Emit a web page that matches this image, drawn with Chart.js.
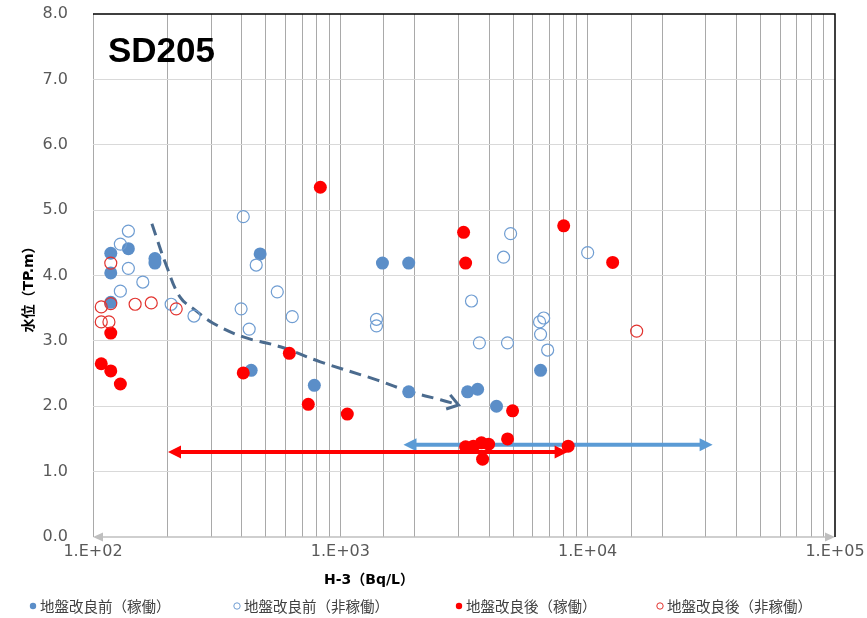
<!DOCTYPE html>
<html>
<head>
<meta charset="utf-8">
<title>SD205</title>
<script src="https://cdn.jsdelivr.net/npm/chart.js@4.4.1/dist/chart.umd.min.js"></script>
<style>
  html, body { margin: 0; padding: 0; background: #ffffff; }
  #wrap { width: 867px; height: 618px; position: relative; }
</style>
</head>
<body>
<div id="wrap"><canvas id="c" width="867" height="618"></canvas></div>
<script>
// ---- data: H-3 concentration (Bq/L) vs. water level (TP.m) ----
const chartTitle = 'SD205';
const xAxisTitle = 'H-3（Bq/L）';
const yAxisTitle = '水位（TP.m）';
const seriesNames = ['地盤改良前（稼働）', '地盤改良前（非稼働）', '地盤改良後（稼働）', '地盤改良後（非稼働）'];

// before ground improvement, operating
const beforeOpX = [118, 139, 118, 178, 178, 118, 474, 436, 785, 1480, 1890, 1890, 3270, 3590, 4280, 6450];
const beforeOpY = [4.34, 4.41, 4.04, 4.26, 4.19, 3.59, 4.33, 2.55, 2.32, 4.19, 4.19, 2.22, 2.22, 2.26, 2.00, 2.55];

// before ground improvement, not operating
const beforeIdleX = [139, 129, 139, 159, 129, 207, 256, 405, 457, 556, 397, 639, 428, 1400, 1400, 3390, 3650, 4740, 4880, 4570, 6640, 6390, 6450, 6890, 10000];
const beforeIdleY = [4.68, 4.48, 4.11, 3.90, 3.76, 3.56, 3.38, 4.90, 4.16, 3.75, 3.49, 3.37, 3.18, 3.33, 3.23, 3.61, 2.97, 2.97, 4.64, 4.28, 3.35, 3.29, 3.10, 2.86, 4.35];

// after ground improvement, operating
const afterOpX = [118, 108, 118, 129, 405, 622, 742, 830, 1067, 3150, 3210, 3210, 3450, 3720, 3760, 3975, 4744, 4970, 8000, 8340, 12620];
const afterOpY = [3.12, 2.65, 2.54, 2.34, 2.51, 2.81, 2.03, 5.35, 1.88, 4.66, 4.19, 1.38, 1.39, 1.44, 1.19, 1.42, 1.50, 1.93, 4.76, 1.39, 4.20];

// after ground improvement, not operating
const afterIdleX = [118, 108, 118, 148, 172, 217, 108, 116, 15780];
const afterIdleY = [4.19, 3.52, 3.57, 3.56, 3.58, 3.49, 3.29, 3.29, 3.15];

// axis ticks
const xTickValues = [100, 1000, 10000, 100000];
const xTickLabels = ['1.E+02', '1.E+03', '1.E+04', '1.E+05'];
const yTickValues = [0, 1, 2, 3, 4, 5, 6, 7, 8];

// annotation: trend path (dashed arrow) and concentration ranges (double arrows)
const trendPathX = [173, 199, 225, 259, 306, 405, 572, 830, 1412, 1920, 2541, 3005];
const trendPathY = [4.79, 4.13, 3.67, 3.47, 3.27, 3.06, 2.91, 2.68, 2.40, 2.22, 2.10, 2.02];
const afterRangeX = [201, 8300];
const afterRangeY = 1.30;
const beforeRangeX = [1800, 32000];
const beforeRangeY = 1.41;

// ---- styles ----
const BLUE = '#5b8ec8';
const BLUE_RING = '#6f9dd2';
const RED = '#ff0000';
const RED_RING = '#e2332f';
const TREND = '#4b6b8e';
const RANGE_BLUE = '#5b9bd5';

const toPoints = (xs, ys) => xs.map((x, i) => ({ x: x, y: ys[i] }));

function arrowLine(ctx, x1, y1, x2, y2, color, w, hl, hw, both) {
  const ang = Math.atan2(y2 - y1, x2 - x1);
  const c = Math.cos(ang), s = Math.sin(ang);
  ctx.save();
  ctx.strokeStyle = color;
  ctx.fillStyle = color;
  ctx.lineWidth = w;
  ctx.setLineDash([]);
  ctx.beginPath();
  ctx.moveTo(x1 + (both ? hl * 0.8 * c : 0), y1 + (both ? hl * 0.8 * s : 0));
  ctx.lineTo(x2 - hl * 0.8 * c, y2 - hl * 0.8 * s);
  ctx.stroke();
  const head = (tx, ty, a) => {
    const ca = Math.cos(a), sa = Math.sin(a);
    ctx.beginPath();
    ctx.moveTo(tx, ty);
    ctx.lineTo(tx - hl * ca + hw * sa, ty - hl * sa - hw * ca);
    ctx.lineTo(tx - hl * ca - hw * sa, ty - hl * sa + hw * ca);
    ctx.closePath();
    ctx.fill();
  };
  head(x2, y2, ang);
  if (both) head(x1, y1, ang + Math.PI);
  ctx.restore();
}

const plotFrame = {
  id: 'plotFrame',
  beforeDatasetsDraw(chart) {
    const { ctx, chartArea: a, scales: { x, y } } = chart;
    // x axis baseline with arrow heads at both ends
    arrowLine(ctx, a.left, a.bottom, a.right, a.bottom, '#bfbfbf', 1.5, 10, 4.5, true);
    // concentration ranges
    arrowLine(ctx, x.getPixelForValue(beforeRangeX[0]), y.getPixelForValue(beforeRangeY),
      x.getPixelForValue(beforeRangeX[1]), y.getPixelForValue(beforeRangeY), RANGE_BLUE, 4, 13, 6.5, true);
    arrowLine(ctx, x.getPixelForValue(afterRangeX[0]), y.getPixelForValue(afterRangeY),
      x.getPixelForValue(afterRangeX[1]), y.getPixelForValue(afterRangeY), RED, 4, 13, 6.5, true);
  },
  afterDatasetsDraw(chart) {
    const { ctx, scales: { x, y } } = chart;
    // open arrow head at the end of the trend path
    const n = trendPathX.length;
    const tx = x.getPixelForValue(trendPathX[n - 1]), ty = y.getPixelForValue(trendPathY[n - 1]);
    const px = x.getPixelForValue(trendPathX[n - 2]), py = y.getPixelForValue(trendPathY[n - 2]);
    const ang = Math.atan2(ty - py, tx - px);
    const arm = 13, spread = 0.6;
    ctx.save();
    ctx.strokeStyle = TREND;
    ctx.lineWidth = 3;
    ctx.lineJoin = 'miter';
    ctx.beginPath();
    ctx.moveTo(tx - arm * Math.cos(ang - spread), ty - arm * Math.sin(ang - spread));
    ctx.lineTo(tx, ty);
    ctx.lineTo(tx - arm * Math.cos(ang + spread), ty - arm * Math.sin(ang + spread));
    ctx.stroke();
    ctx.restore();
  },
  afterDraw(chart) {
    const { ctx, chartArea: a } = chart;
    ctx.save();
    // top and right frame
    ctx.strokeStyle = '#000000';
    ctx.lineWidth = 1.5;
    ctx.beginPath();
    ctx.moveTo(a.left, a.top);
    ctx.lineTo(a.right, a.top);
    ctx.lineTo(a.right, a.bottom);
    ctx.stroke();

    // chart title inside plot
    ctx.fillStyle = '#000000';
    ctx.font = 'bold 35px "Liberation Sans", Arial, sans-serif';
    ctx.textAlign = 'left';
    ctx.textBaseline = 'alphabetic';
    ctx.fillText(chartTitle, 108, 62);

    // axis titles
    ctx.font = 'bold 14px "DejaVu Sans", "Noto Sans CJK JP", sans-serif';
    ctx.textAlign = 'center';
    ctx.textBaseline = 'middle';
    ctx.fillText(xAxisTitle, 369, 580);
    ctx.save();
    ctx.translate(29, 286);
    ctx.rotate(-Math.PI / 2);
    ctx.fillText(yAxisTitle, 0, 0);
    ctx.restore();

    // legend
    const legendX = [33, 237, 459, 660];
    const legendY = 606;
    const marks = [
      { fill: BLUE, stroke: null },
      { fill: null, stroke: BLUE_RING },
      { fill: RED, stroke: null },
      { fill: null, stroke: RED_RING }
    ];
    ctx.font = '14.5px "Noto Sans CJK JP", sans-serif';
    ctx.textAlign = 'left';
    ctx.textBaseline = 'middle';
    seriesNames.forEach((name, i) => {
      const m = marks[i];
      ctx.beginPath();
      ctx.arc(legendX[i], legendY, 3.2, 0, Math.PI * 2);
      if (m.fill) { ctx.fillStyle = m.fill; ctx.fill(); }
      if (m.stroke) { ctx.strokeStyle = m.stroke; ctx.lineWidth = 1; ctx.stroke(); }
      ctx.fillStyle = '#404040';
      ctx.fillText(name, legendX[i] + 7, legendY);
    });
    ctx.restore();
  }
};

new Chart(document.getElementById('c'), {
  type: 'scatter',
  data: {
    datasets: [
      {
        type: 'line', label: 'trend', data: toPoints(trendPathX, trendPathY),
        borderColor: TREND, borderWidth: 3, borderDash: [12, 7], pointRadius: 0,
        tension: 0.4, fill: false, order: 10
      },
      {
        label: seriesNames[0], data: toPoints(beforeOpX, beforeOpY),
        pointRadius: 6.5, pointBackgroundColor: BLUE, pointBorderColor: BLUE, pointBorderWidth: 0, order: 4
      },
      {
        label: seriesNames[1], data: toPoints(beforeIdleX, beforeIdleY),
        pointRadius: 6, pointBackgroundColor: 'rgba(255,255,255,0)', pointBorderColor: BLUE_RING, pointBorderWidth: 1.2, order: 3
      },
      {
        label: seriesNames[2], data: toPoints(afterOpX, afterOpY),
        pointRadius: 6.5, pointBackgroundColor: RED, pointBorderColor: RED, pointBorderWidth: 0, order: 2
      },
      {
        label: seriesNames[3], data: toPoints(afterIdleX, afterIdleY),
        pointRadius: 6, pointBackgroundColor: 'rgba(255,255,255,0)', pointBorderColor: RED_RING, pointBorderWidth: 1.2, order: 1
      }
    ]
  },
  options: {
    responsive: false,
    animation: false,
    events: [],
    layout: { padding: { left: 0, top: 14, right: 32, bottom: 0 } },
    plugins: { legend: { display: false }, tooltip: { enabled: false }, title: { display: false } },
    scales: {
      x: {
        type: 'logarithmic',
        min: 100, max: 100000,
        afterFit(scale) {
          scale.height = 81;
          scale.paddingLeft = 0; scale.paddingRight = 0;
        },
        border: { display: false },
        grid: {
          drawTicks: false,
          color: (ctx) => (ctx.tick && ctx.tick.value >= 100000) ? 'rgba(0,0,0,0)' : '#a9a9a9',
          lineWidth: 1
        },
        ticks: {
          autoSkip: false, maxRotation: 0, minRotation: 0, padding: 5,
          color: '#595959',
          font: { family: '"DejaVu Sans", Verdana, sans-serif', size: 16 },
          callback: (value) => {
            const k = xTickValues.indexOf(value);
            return k >= 0 ? xTickLabels[k] : '';
          }
        }
      },
      y: {
        type: 'linear',
        min: 0, max: 8,
        afterFit(scale) {
          scale.width = 93;
          scale.paddingTop = 0; scale.paddingBottom = 0;
        },
        border: { display: false },
        grid: {
          drawTicks: false,
          color: (ctx) => (ctx.tick && (ctx.tick.value === 0 || ctx.tick.value === 8)) ? 'rgba(0,0,0,0)' : '#d9d9d9',
          lineWidth: 1
        },
        afterBuildTicks(scale) { scale.ticks = yTickValues.map(v => ({ value: v })); },
        ticks: {
          padding: 25,
          color: '#595959',
          font: { family: '"DejaVu Sans", Verdana, sans-serif', size: 16 },
          callback: (value) => Number(value).toFixed(1)
        }
      }
    }
  },
  plugins: [plotFrame]
});
</script>
</body>
</html>
